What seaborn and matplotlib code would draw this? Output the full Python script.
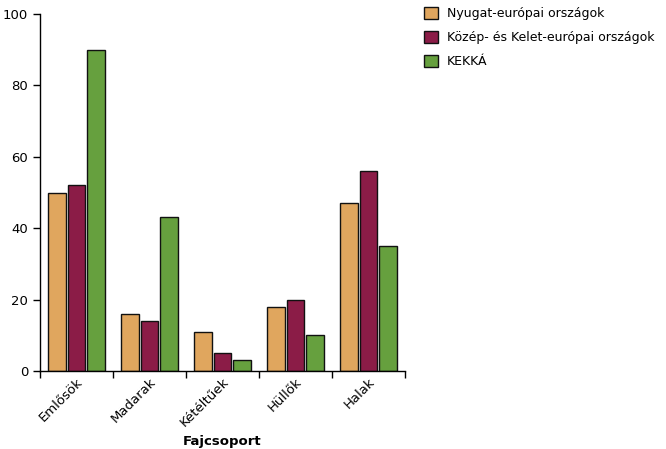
import pandas as pd
import matplotlib.pyplot as plt
import seaborn as sns

# adatok
groups = ["Emlősök", "Madarak", "Kétéltűek", "Hüllők", "Halak"]
series = ["Nyugat-európai országok", "Közép- és Kelet-európai országok", "KEKKÁ"]
nyugat = [50, 16, 11, 18, 47]
kozep_kelet = [52, 14, 5, 20, 56]
kekka = [90, 43, 3, 10, 35]
colors = ["#E0A65E", "#8B1C47", "#66A03E"]

df = pd.DataFrame({
    "Fajcsoport": groups * 3,
    "Érték": nyugat + kozep_kelet + kekka,
    "Csoport": [series[0]] * 5 + [series[1]] * 5 + [series[2]] * 5,
})

sns.set_style("white")
plt.rcParams['font.family'] = ['DejaVu Sans']
plt.rcParams['text.color'] = 'black'
plt.rcParams['xtick.color'] = 'black'
plt.rcParams['ytick.color'] = 'black'
plt.rcParams['axes.labelcolor'] = 'black'

fig = plt.figure(figsize=(6.66, 4.49), dpi=100)
ax = fig.add_axes([40 / 666, 78 / 449, 365 / 666, 357 / 449])

sns.barplot(data=df, x="Fajcsoport", y="Érték", hue="Csoport", palette=colors,
            saturation=1, width=0.8, gap=0.08, edgecolor="#111111", linewidth=1.0,
            errorbar=None, ax=ax)

ax.set_ylim(0, 100)
ax.set_xlim(-0.5, 4.5)
ax.set_yticks(range(0, 101, 20))
ax.tick_params(axis="y", left=True, length=5, width=1, labelsize=9.5)
ax.tick_params(axis="x", which="major", bottom=False, length=0, labelsize=9.5, pad=3)
ax.set_xticks([i - 0.5 for i in range(6)], minor=True)
ax.tick_params(axis="x", which="minor", bottom=True, length=5, width=1)
plt.setp(ax.get_xticklabels(), rotation=45, ha="right", rotation_mode="anchor")

for s in ["top", "right"]:
    ax.spines[s].set_visible(False)
for s in ["left", "bottom"]:
    ax.spines[s].set_color("black")
    ax.spines[s].set_linewidth(1)

ax.set_ylabel("")
ax.set_xlabel("Fajcsoport", fontsize=9.5, fontweight="bold")
ax.xaxis.set_label_coords(0.5, -0.178)

handles, labels = ax.get_legend_handles_labels()
ax.get_legend().remove()
fig.legend(handles, labels, loc="upper left", bbox_to_anchor=(413 / 666, 1.01),
           frameon=False, fontsize=9, handlelength=1.1, handleheight=1.1,
           handletextpad=0.7, labelspacing=0.85)

fig.savefig("out.png", dpi=100)
